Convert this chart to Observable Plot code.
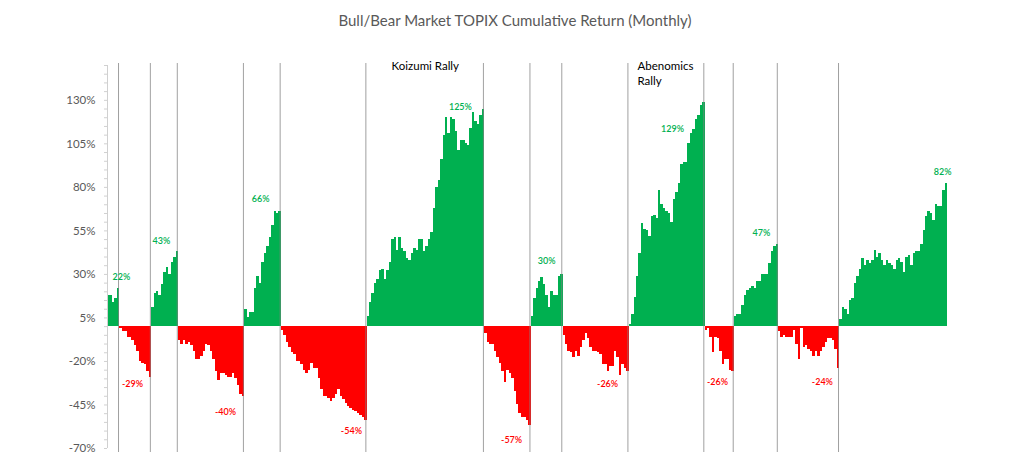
<!DOCTYPE html>
<html><head><meta charset="utf-8">
<script src="https://cdn.jsdelivr.net/npm/d3@7"></script>
<script src="https://cdn.jsdelivr.net/npm/@observablehq/plot@0.6"></script>
<style>
body{margin:0;background:#fff;font-family:Lato,"Open Sans",sans-serif;}
#title{height:40px;line-height:40px;text-align:center;font-size:15px;color:#595959;}
</style></head><body>
<div id="title">Bull/Bear Market TOPIX Cumulative Return (Monthly)</div>
<div id="chart"></div>
<script>
// Monthly cumulative return (%) within each bull / bear phase
const bull1 = [18, 18, 14, 16, 22];
const bear1 = [-1, -3, -3, -6, -6, -8, -11, -14, -20, -21, -22, -26, -29];
const bull2 = [11, 19, 20, 18, 24, 31, 34, 30, 37, 40, 43];
const bear2 = [-8, -10, -8, -10, -9, -11, -14, -19, -19, -17, -14, -10, -11, -14, -19, -26, -31, -27, -27, -28, -29, -29, -27, -30, -34, -39, -40];
const bull3 = [10, 5, 8, 8, 22, 29, 25, 37, 42, 46, 51, 58, 66, 65, 66];
const bear3 = [-2, -5, -9, -12, -15, -16, -20, -20, -22, -25, -27, -25, -21, -24, -24, -30, -36, -40, -40, -41, -43, -41, -39, -36, -40, -42, -44, -46, -47, -48, -49, -50, -51, -52, -54];
const bull4 = [6, 14, 19, 25, 27, 32, 33, 27, 32, 37, 50, 51, 44, 51, 45, 43, 39, 38, 42, 45, 44, 50, 50, 43, 46, 50, 54, 68, 80, 84, 96, 110, 120, 111, 120, 119, 112, 101, 107, 107, 105, 104, 114, 123, 118, 116, 121, 125];
const bear4 = [-4, -9, -10, -10, -14, -18, -21, -26, -32, -25, -27, -30, -37, -45, -50, -52, -52, -54, -57];
const bull5 = [6, 16, 22, 26, 28, 24, 18, 11, 20, 18, 18, 29, 30];
const bear5 = [-5, -10, -14, -15, -18, -14, -17, -12, -8, -4, -7, -12, -14, -14, -15, -16, -22, -22, -26, -23, -23, -14, -18, -28, -22, -24, -26];
const bull6 = [1, 7, 17, 29, 42, 59, 56, 55, 52, 63, 64, 62, 78, 70, 68, 66, 65, 60, 73, 77, 82, 93, 94, 94, 105, 111, 113, 119, 121, 127, 129];
const bear6 = [-2, -1, -6, -15, -6, -7, -14, -22, -19, -19, -25, -26];
const bull7 = [6, 7, 7, 12, 18, 21, 22, 23, 22, 26, 26, 30, 30, 30, 36, 43, 46, 47];
const bear7 = [-3, -6, -5, -6, -6, -6, -2, -10, -19, -1, -12, -11, -13, -14, -17, -14, -17, -14, -12, -9, -7, -7, -8, -13, -24];
const bull8 = [4, 11, 10, 7, 15, 16, 25, 29, 33, 39, 35, 38, 36, 38, 44, 40, 42, 38, 35, 38, 36, 35, 33, 38, 39, 37, 31, 40, 41, 35, 42, 43, 43, 47, 55, 63, 66, 65, 61, 70, 69, 69, 78, 82];

const phases = [bull1, bear1, bull2, bear2, bull3, bear3, bull4, bear4, bull5, bear5, bull6, bear6, bull7, bear7, bull8];

// Peak / trough labels (text, month index, value position)
const labelText  = ["22%", "-29%", "43%", "-40%", "66%", "-54%", "125%", "-57%", "30%", "-26%", "129%", "-26%", "47%", "-24%", "82%"];
const labelMonth = [5.7, 10.2, 22.0, 48.2, 62.5, 99.6, 144.1, 165.0, 179.3, 204.2, 230.7, 249.1, 267.0, 291.9, 341.0];
const labelValue = [28.7, -33.3, 48.9, -48.9, 73.0, -59.8, 125.9, -64.9, 37.4, -33.3, 113.2, -31.6, 54.0, -31.6, 88.5];

// Rally annotations
const noteText  = ["Koizumi Rally", "Abenomics\nRally"];
const noteMonth = [116, 216.4];
const noteValue = [153.7, 153.7];

const majorTicks = [-70, -45, -20, 5, 30, 55, 80, 105, 130];
const minorTicks = d3.range(-70, 151, 5);

const GREEN = "#00B050", RED = "#FF0000";

const rows = [];
const boundaries = [];
let idx = 0;
phases.forEach((vals, p) => {
  if (p > 0) boundaries.push(idx - 0.5);
  vals.forEach(v => rows.push({i: idx++, v, kind: p % 2 === 0 ? "bull" : "bear"}));
});
const N = idx;

const labels = labelText.map((t, k) => ({t, m: labelMonth[k], v: labelValue[k], kind: t.startsWith("-") ? "bear" : "bull"}));
const notes = noteText.map((t, k) => ({t, m: noteMonth[k], v: noteValue[k]}));

const chart = Plot.plot({
  width: 1030,
  height: 416,
  marginLeft: 107,
  marginRight: 83,
  marginTop: 25,
  marginBottom: 8,
  x: {domain: [0, N], axis: null},
  y: {domain: [-70, 150], axis: null},
  color: {domain: ["bull", "bear"], range: [GREEN, RED]},
  style: {fontFamily: "Lato, 'Open Sans', sans-serif", background: "#fff"},
  marks: [
    Plot.rectY(rows, {x1: "i", x2: d => d.i + 1, y: "v", fill: "kind", shapeRendering: "crispEdges"}),
    Plot.ruleX(boundaries, {stroke: "#808080", strokeWidth: 1, strokeOpacity: 0.75, insetTop: -2, insetBottom: -4}),
    Plot.ruleX([0], {stroke: "#d0d0d0"}),
    Plot.axisY({ticks: minorTicks, tickSize: 3, text: null, label: null, stroke: "#d0d0d0"}),
    Plot.axisY({ticks: majorTicks, tickSize: 0, tickPadding: 12, label: null, tickFormat: d => `${d}%`, fontSize: 11.5, fill: "#595959"}),
    Plot.text(labels, {x: "m", y: "v", text: "t", fill: "kind", fontSize: 9, fontWeight: 600}),
    Plot.text(notes, {x: "m", y: "v", text: "t", textAnchor: "start", lineAnchor: "top", fontSize: 11.5, lineHeight: 1.3, fill: "#000"})
  ]
});
document.getElementById("chart").appendChild(chart);
</script></body></html>
